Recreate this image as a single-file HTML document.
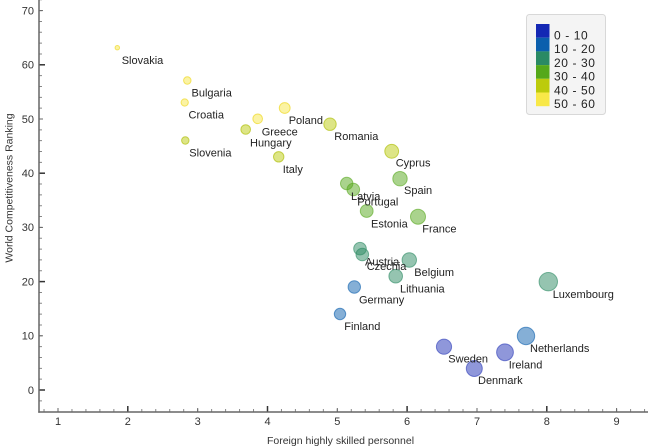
<!DOCTYPE html>
<html>
<head>
<meta charset="utf-8">
<style>
html,body{margin:0;padding:0;background:#fff;}
svg{display:block;}
text{font-family:"Liberation Sans",Arial,sans-serif;}
</style>
</head>
<body>
<svg width="648" height="447" viewBox="0 0 648 447" xmlns="http://www.w3.org/2000/svg">
<rect x="0" y="0" width="648" height="447" fill="#fff"/>

<!-- minor ticks -->
<line x1="43.53" y1="410.5" x2="648" y2="410.5" stroke="#888" stroke-width="3" stroke-dasharray="1 12.966"/>
<line x1="40.5" y1="401.34" x2="40.5" y2="0" stroke="#888" stroke-width="3" stroke-dasharray="1 9.84"/>

<!-- x integer ticks -->
<g stroke="#666" stroke-width="1">
<line x1="58" y1="408" x2="58" y2="412"/>
<line x1="197.7" y1="408" x2="197.7" y2="412"/>
<line x1="337.3" y1="408" x2="337.3" y2="412"/>
<line x1="477" y1="408" x2="477" y2="412"/>
<line x1="616.6" y1="408" x2="616.6" y2="412"/>
</g>
<g stroke="#333" stroke-width="1.5">
<line x1="127.8" y1="406" x2="127.8" y2="412"/>
<line x1="267.5" y1="406" x2="267.5" y2="412"/>
<line x1="407.1" y1="406" x2="407.1" y2="412"/>
<line x1="546.8" y1="406" x2="546.8" y2="412"/>
</g>
<!-- y integer ticks -->
<g stroke="#666" stroke-width="1">
<line x1="39" y1="10.6" x2="43" y2="10.6"/>
<line x1="39" y1="119" x2="43" y2="119"/>
<line x1="39" y1="227.4" x2="43" y2="227.4"/>
<line x1="39" y1="335.8" x2="43" y2="335.8"/>
</g>
<g stroke="#333" stroke-width="1.5">
<line x1="39" y1="64.8" x2="45" y2="64.8"/>
<line x1="39" y1="173.2" x2="45" y2="173.2"/>
<line x1="39" y1="281.6" x2="45" y2="281.6"/>
<line x1="39" y1="390" x2="45" y2="390"/>
</g>

<!-- axes -->
<line x1="39" y1="0" x2="39" y2="412.7" stroke="#666" stroke-width="1.5"/>
<line x1="38.3" y1="412" x2="648" y2="412" stroke="#666" stroke-width="1.5"/>

<!-- tick labels -->
<g font-size="11" fill="#333" text-anchor="middle">
<text x="58" y="425">1</text>
<text x="127.8" y="425">2</text>
<text x="197.7" y="425">3</text>
<text x="267.5" y="425">4</text>
<text x="337.3" y="425">5</text>
<text x="407.1" y="425">6</text>
<text x="477" y="425">7</text>
<text x="546.8" y="425">8</text>
<text x="616.6" y="425">9</text>
</g>
<g font-size="11" fill="#333" text-anchor="end">
<text x="34" y="14.4">70</text>
<text x="34" y="68.6">60</text>
<text x="34" y="122.8">50</text>
<text x="34" y="177">40</text>
<text x="34" y="231.2">30</text>
<text x="34" y="285.4">20</text>
<text x="34" y="339.6">10</text>
<text x="34" y="393.8">0</text>
</g>

<!-- axis titles -->
<text x="340.5" y="444" font-size="10.5" fill="#333" text-anchor="middle">Foreign highly skilled personnel</text>
<text transform="translate(12.5,188) rotate(-90)" font-size="10.5" fill="#333" text-anchor="middle">World Competitiveness Ranking</text>

<!-- bubbles -->
<g stroke-width="1">
<!-- 50-60 yellow -->
<g fill="#f7e74a" fill-opacity="0.5" stroke="#f0dc3a" stroke-opacity="0.8">
<circle cx="117.3" cy="47.7" r="2.2"/>
<circle cx="187.3" cy="80.5" r="3.7"/>
<circle cx="184.7" cy="102.5" r="3.6"/>
<circle cx="257.7" cy="118.8" r="4.8"/>
<circle cx="284.7" cy="108" r="5.4"/>
</g>
<!-- 40-50 -->
<g fill="#bccb0e" fill-opacity="0.5" stroke="#b0c010" stroke-opacity="0.7">
<circle cx="185.3" cy="140.5" r="3.7"/>
<circle cx="245.7" cy="129.5" r="4.8"/>
<circle cx="278.7" cy="156.8" r="5.2"/>
<circle cx="330" cy="124.2" r="6.2"/>
<circle cx="391.7" cy="151.3" r="6.9"/>
</g>
<!-- 30-40 -->
<g fill="#56a81c" fill-opacity="0.5" stroke="#56a81c" stroke-opacity="0.6">
<circle cx="400" cy="178.7" r="7.2"/>
<circle cx="346.7" cy="183.5" r="6.2"/>
<circle cx="353.3" cy="189.5" r="6.3"/>
<circle cx="366.7" cy="211" r="6.4"/>
<circle cx="418" cy="216.7" r="7.5"/>
</g>
<!-- 20-30 -->
<g fill="#2b8a62" fill-opacity="0.5" stroke="#2b8a62" stroke-opacity="0.6">
<circle cx="360" cy="248.7" r="6.3"/>
<circle cx="362.3" cy="254.5" r="6.3"/>
<circle cx="409.3" cy="260" r="7.2"/>
<circle cx="395.7" cy="276.2" r="6.8"/>
<circle cx="548.3" cy="281.7" r="9.2"/>
</g>
<!-- 10-20 -->
<g fill="#0c5fae" fill-opacity="0.5" stroke="#0c5fae" stroke-opacity="0.6">
<circle cx="354.3" cy="287" r="6.2"/>
<circle cx="340" cy="314" r="5.7"/>
<circle cx="526" cy="336" r="8.7"/>
</g>
<!-- 0-10 -->
<g fill="#1f2fb5" fill-opacity="0.5" stroke="#1f2fb5" stroke-opacity="0.55">
<circle cx="444" cy="346.7" r="7.6"/>
<circle cx="505" cy="352.3" r="8.4"/>
<circle cx="474.3" cy="368.5" r="8.0"/>
</g>
</g>

<!-- labels -->
<g font-size="11" fill="#222">
<text x="121.7" y="64">Slovakia</text>
<text x="191.5" y="96.5">Bulgaria</text>
<text x="188.5" y="118.5">Croatia</text>
<text x="189.3" y="156.5">Slovenia</text>
<text x="261.7" y="135.3">Greece</text>
<text x="250" y="146.3">Hungary</text>
<text x="282.7" y="173">Italy</text>
<text x="288.7" y="124">Poland</text>
<text x="334.3" y="140">Romania</text>
<text x="395.7" y="166.7">Cyprus</text>
<text x="404" y="194">Spain</text>
<text x="351" y="200">Latvia</text>
<text x="357.3" y="205.3">Portugal</text>
<text x="371" y="227.3">Estonia</text>
<text x="422.3" y="232.3">France</text>
<text x="365" y="265.7">Austria</text>
<text x="366.7" y="270">Czechia</text>
<text x="414.3" y="276">Belgium</text>
<text x="400" y="292.3">Lithuania</text>
<text x="552.7" y="298">Luxembourg</text>
<text x="359" y="303.3">Germany</text>
<text x="344.3" y="330">Finland</text>
<text x="530" y="352">Netherlands</text>
<text x="448.3" y="362.7">Sweden</text>
<text x="508.7" y="368.3">Ireland</text>
<text x="478" y="384">Denmark</text>
</g>

<!-- legend -->
<rect x="526.5" y="14.5" width="79" height="100" rx="3" fill="#f4f4f4" stroke="#d8d8d8" stroke-width="1"/>
<rect x="536" y="24" width="13.5" height="13.7" fill="#1428b4"/>
<rect x="536" y="37.7" width="13.5" height="13.7" fill="#0b5fad"/>
<rect x="536" y="51.4" width="13.5" height="13.7" fill="#2a8a64"/>
<rect x="536" y="65.1" width="13.5" height="13.7" fill="#55a81a"/>
<rect x="536" y="78.8" width="13.5" height="13.7" fill="#bccb0c"/>
<rect x="536" y="92.5" width="13.5" height="13.7" fill="#f8e848"/>
<g font-size="12" fill="#222" letter-spacing="0.6">
<text x="554" y="39.5">0 - 10</text>
<text x="554" y="53.2">10 - 20</text>
<text x="554" y="66.9">20 - 30</text>
<text x="554" y="80.6">30 - 40</text>
<text x="554" y="94.3">40 - 50</text>
<text x="554" y="108">50 - 60</text>
</g>
</svg>
</body>
</html>
